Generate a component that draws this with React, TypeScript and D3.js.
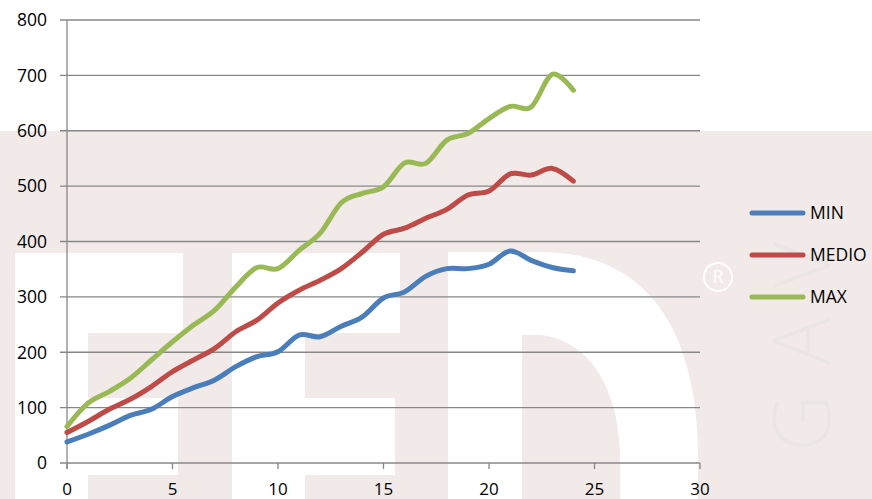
import React from 'react'
import * as d3 from 'd3'

// one value per day 0..24
const days = d3.range(0, 25)
const minVals = [38, 52, 68, 86, 97, 120, 136, 150, 174, 192, 201, 231, 228, 247, 264, 298, 309, 337, 351, 351, 359, 383, 366, 353, 347]
const medioVals = [55, 75, 97, 115, 138, 165, 186, 207, 237, 258, 289, 312, 330, 351, 381, 413, 424, 442, 458, 484, 491, 522, 520, 532, 509]
const maxVals = [66, 108, 129, 153, 186, 219, 249, 276, 318, 353, 351, 384, 415, 470, 487, 499, 542, 541, 583, 595, 622, 644, 643, 702, 673]

const seriesNames = ['MIN', 'MEDIO', 'MAX']
const seriesColors = ['#4a7ebb', '#be4b48', '#98b954']
const xTicks = [0, 5, 10, 15, 20, 25, 30]
const yTicks = [0, 100, 200, 300, 400, 500, 600, 700, 800]

const W = 872, H = 499
const font = "'Open Sans', 'DejaVu Sans', sans-serif"
const pink = '#f2eae9'

export default function App() {
  const x = d3.scaleLinear().domain([0, 30]).range([67, 700])
  const y = d3.scaleLinear().domain([0, 800]).range([463, 20])

  const line = d3.line<number>()
    .x((_, i) => x(days[i]))
    .y(d => y(d))
    .curve(d3.curveCardinal.tension(0))

  const series = [minVals, medioVals, maxVals]

  return (
    <svg width={W} height={H} style={{ position: 'absolute', left: 0, top: 0, background: '#fff' }}>
      {/* watermark behind the chart */}
      <rect x={0} y={131} width={W} height={H - 131} fill={pink} />
      <g fill="#fff">
        <path d="M15,253 L183,253 L183,333 L88,333 L88,398 L178,398 L178,475 L88,475 L88,499 L15,499 Z" />
        <path d="M232,253 L400,253 L400,333 L305,333 L305,398 L395,398 L395,475 L305,475 L305,499 L232,499 Z" />
        <path d="M448,252 L540,252 C640,252 698,320 698,460 L698,499 L448,499 Z" />
      </g>
      <path d="M522,335 L540,335 C590,340 620,390 620,460 L620,499 L522,499 Z" fill={pink} />
      <circle cx={718} cy={277} r={14} fill="none" stroke="#fff" strokeWidth={2} />
      <text x={718} y={277} dy="0.36em" textAnchor="middle" fill="#fff" fontFamily={font} fontSize={18}>R</text>
      <text transform="translate(830,452) rotate(-90)" fill="#ebe6e6" fontFamily={font} fontWeight={300}
        fontSize={80} textLength={210} lengthAdjust="spacing">GAV</text>

      {/* grid */}
      {yTicks.map(t => (
        <line key={t} x1={60} x2={700} y1={y(t)} y2={y(t)} stroke="#878787" strokeWidth={1.3} />
      ))}
      <line x1={x(0)} x2={x(0)} y1={y(800)} y2={469} stroke="#878787" strokeWidth={1.3} />
      {xTicks.map(t => (
        <line key={t} x1={x(t)} x2={x(t)} y1={y(0)} y2={469} stroke="#878787" strokeWidth={1.3} />
      ))}

      {yTicks.map(t => (
        <text key={t} x={47} y={y(t)} dy="0.36em" textAnchor="end" fontFamily={font} fontSize={17.5} fill="#000">{t}</text>
      ))}
      {xTicks.map(t => (
        <text key={t} x={x(t)} y={495} textAnchor="middle" fontFamily={font} fontSize={17} fill="#000">{t}</text>
      ))}

      {series.map((s, i) => (
        <path key={i} d={line(s) || ''} fill="none" stroke={seriesColors[i]} strokeWidth={5}
          strokeLinecap="round" strokeLinejoin="round" />
      ))}

      {seriesNames.map((n, i) => (
        <g key={n} transform={`translate(0,${213 + i * 42})`}>
          <line x1={752} x2={803} y1={0} y2={0} stroke={seriesColors[i]} strokeWidth={5} strokeLinecap="round" />
          <text x={810} y={0} dy="0.36em" fontFamily={font} fontSize={17.5} fill="#000">{n}</text>
        </g>
      ))}
    </svg>
  )
}
